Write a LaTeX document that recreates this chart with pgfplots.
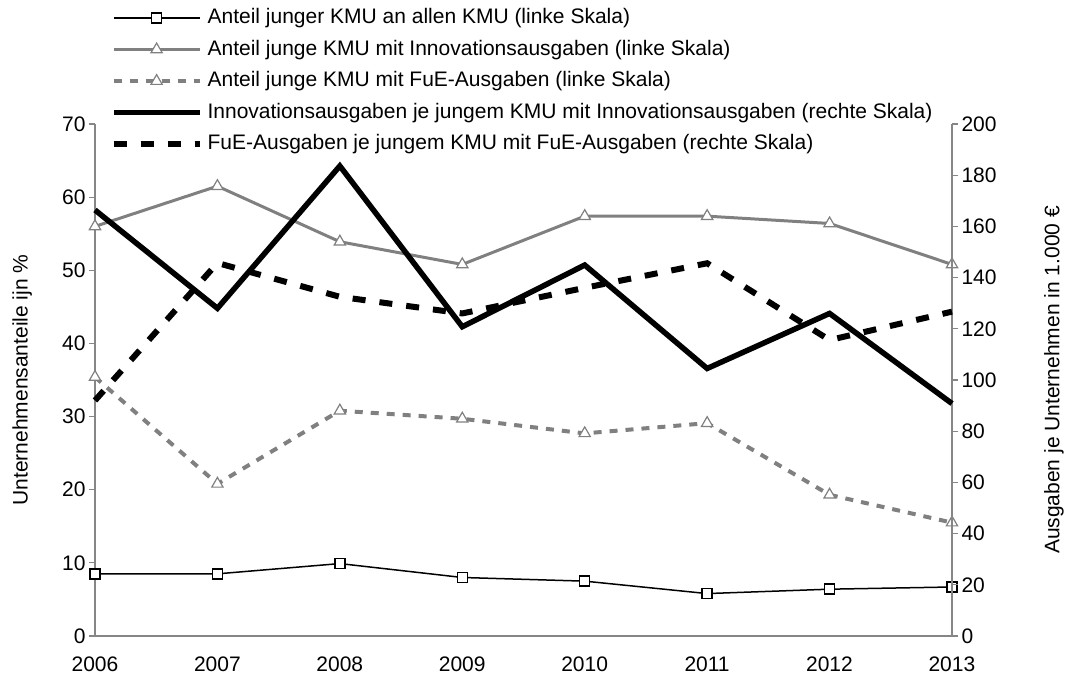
\documentclass[border=0pt]{standalone}
\usepackage{pgfplots}
\pgfplotsset{compat=1.18}
\usepackage{fontspec}
\setmainfont{Liberation Sans}
\definecolor{mygray}{RGB}{128,128,128}
\definecolor{axgray}{RGB}{134,134,134}
\pgfplotsset{
  base/.style={
    at={(0,0)}, anchor=south west, scale only axis, width=857bp, height=512bp,
    xmin=2006, xmax=2013, clip=false,
    tick label style={font=\fontsize{21bp}{25bp}\selectfont},
    label style={font=\fontsize{21bp}{25bp}\selectfont},
    /pgf/number format/assume math mode=true,
    /pgf/number format/1000 sep={},
    axis line style={axgray, line width=1.2bp},
    tick style={axgray, line width=1.2bp},
    tick align=outside, major tick length=6bp,
  },
  s1/.style={black, line width=1.5bp, mark=square*, mark size=5bp, mark options={fill=white, solid, line width=1.5bp}},
  s2/.style={mygray, line width=3bp, mark=triangle*, mark size=6.5bp, mark options={fill=white, solid, line width=1.2bp}},
  s3/.style={mygray, line width=4bp, dash pattern=on 8bp off 8bp, mark=triangle*, mark size=6.5bp, mark options={fill=white, solid, line width=1.2bp}},
  s4/.style={black, line width=5.5bp, no markers},
  s5/.style={black, line width=6bp, dash pattern=on 13bp off 14bp, no markers},
}
\begin{document}
\begin{tikzpicture}
\path[use as bounding box] (-95bp,-43bp) rectangle (972bp,636bp);
\begin{axis}[base,
  ymin=0, ymax=70,
  axis x line*=bottom, axis y line*=left,
  xtick={2006,2007,...,2013}, ytick={0,10,...,70},
  x tick style={draw=none},
  x tick label style={yshift=-11bp},
  ylabel={Unternehmensanteile ijn \%},
  ylabel style={at={(axis description cs:-0.085,0.5)}, anchor=center, rotate=0},
]
\addplot[s1] coordinates {(2006,8.5) (2007,8.5) (2008,9.9) (2009,8.0) (2010,7.5) (2011,5.8) (2012,6.4) (2013,6.7)};
\addplot[s2] coordinates {(2006,56.0) (2007,61.5) (2008,53.9) (2009,50.8) (2010,57.4) (2011,57.4) (2012,56.4) (2013,50.8)};
\addplot[s3] coordinates {(2006,35.4) (2007,20.8) (2008,30.8) (2009,29.7) (2010,27.7) (2011,29.1) (2012,19.3) (2013,15.5)};
\end{axis}
\begin{axis}[base,
  ymin=0, ymax=200,
  axis x line=none, axis y line*=right,
  ytick={0,20,...,200},
  ylabel={Ausgaben je Unternehmen in 1.000 €},
  ylabel style={at={(axis description cs:1.119,0.5)}, anchor=center, rotate=0},
  legend style={at={(axis description cs:0.0145,1.230)}, anchor=north west, draw=none, fill=none,
    font=\fontsize{21bp}{25bp}\selectfont,
    nodes={inner sep=0pt, text height=15bp, text depth=4bp, anchor=west},
    row sep=12.6bp, column sep=5bp},
  legend cell align=left,
  legend image code/.code={\draw[mark repeat=2, mark phase=2, #1] plot coordinates {(0bp,0bp) (43bp,0bp) (86bp,0bp)};},
]
\addlegendimage{s1}
\addlegendentry{Anteil junger KMU an allen KMU (linke Skala)}
\addlegendimage{s2}
\addlegendentry{Anteil junge KMU mit Innovationsausgaben (linke Skala)}
\addlegendimage{s3}
\addlegendentry{Anteil junge KMU mit FuE-Ausgaben (linke Skala)}
\addplot[s4] coordinates {(2006,166.4) (2007,128) (2008,183.6) (2009,120.8) (2010,144.9) (2011,104.5) (2012,126) (2013,90.8)};
\addlegendentry{Innovationsausgaben je jungem KMU mit Innovationsausgaben (rechte Skala)}
\addplot[s5] coordinates {(2006,92) (2007,145.7) (2008,132.5) (2009,126) (2010,136) (2011,145.6) (2012,115.6) (2013,126.7)};
\addlegendentry{FuE-Ausgaben je jungem KMU mit FuE-Ausgaben (rechte Skala)}
\end{axis}
\end{tikzpicture}
\end{document}
